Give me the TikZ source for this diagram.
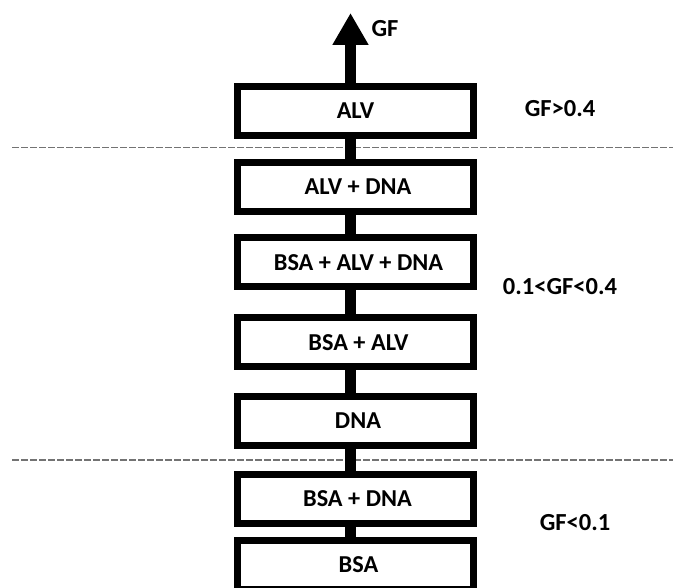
\documentclass[tikz,border=0pt]{standalone}
\usepackage{fontspec}
\setmainfont{Carlito}
\usetikzlibrary{arrows.meta,backgrounds}
\begin{document}
\begin{tikzpicture}[x=1pt,y=-1pt,
  stagebox/.style={draw=black,line width=7pt,fill=white,minimum width=236pt,minimum height=49pt,inner sep=0pt,
    font=\fontsize{24.3}{24.3}\selectfont\bfseries},
  link/.style={line width=11pt,black},
  sidelabel/.style={inner sep=0pt,font=\fontsize{24.5}{24.5}\selectfont\bfseries},
  sep/.style={line width=1.2pt,draw=black!55,dash pattern=on 6.5pt off 2.5pt}]
\clip (0,0) rectangle (673,588);
\useasboundingbox (0,0) rectangle (673,588);
% boxes
\node[stagebox] (alv) at (355.5,111) {ALV};
\node[stagebox] (alvdna) at (355.5,187) {\hspace*{5pt}ALV + DNA};
\node[stagebox] (bad) at (355.5,262.5) {\hspace*{6pt}BSA + ALV + DNA};
\node[stagebox] (ba) at (355.5,342.5) {\hspace*{6pt}BSA + ALV};
\node[stagebox] (dna) at (355.5,421) {\hspace*{5pt}DNA};
\node[stagebox] (bd) at (355.5,498.5) {\hspace*{4pt}BSA + DNA};
\node[stagebox] (bsa) at (355.5,565) {\hspace*{6pt}BSA};
\coordinate (top) at (350.5,13);
\begin{scope}[on background layer]
\fill[white] (0,0) rectangle (673,588);
% separators
\coordinate (s1l) at (12,147.5);
\coordinate (s1r) at (673,147.5);
\coordinate (s2l) at (12,460);
\coordinate (s2r) at (673,460);
\draw[sep] (s1l) -- (s1r);
\draw[sep] (s2l) -- (s2r);
% connectors
\draw[link] ([xshift=-5pt]alv.center) -- ([xshift=-5pt]alvdna.center);
\draw[link] ([xshift=-5pt]alvdna.center) -- ([xshift=-5pt]bad.center);
\draw[link] ([xshift=-5pt]bad.center) -- ([xshift=-5pt]ba.center);
\draw[link] ([xshift=-5pt]ba.center) -- ([xshift=-5pt]dna.center);
\draw[link] ([xshift=-5pt]dna.center) -- ([xshift=-5pt]bd.center);
\draw[link] ([xshift=-5pt]bd.center) -- ([xshift=-5pt]bsa.center);
\end{scope}
\draw[link,-{Triangle[width=34pt,length=32pt]}] ([xshift=-5pt]alv.north) -- (top);
% labels
\node[sidelabel] (gf) at (385,28.5) {GF};
\node[sidelabel] (hi) at (560,109) {GF>0.4};
\node[sidelabel] (mid) at (560,286.5) {0.1<GF<0.4};
\node[sidelabel] (lo) at (575,522.5) {GF<0.1};
\end{tikzpicture}
\end{document}
